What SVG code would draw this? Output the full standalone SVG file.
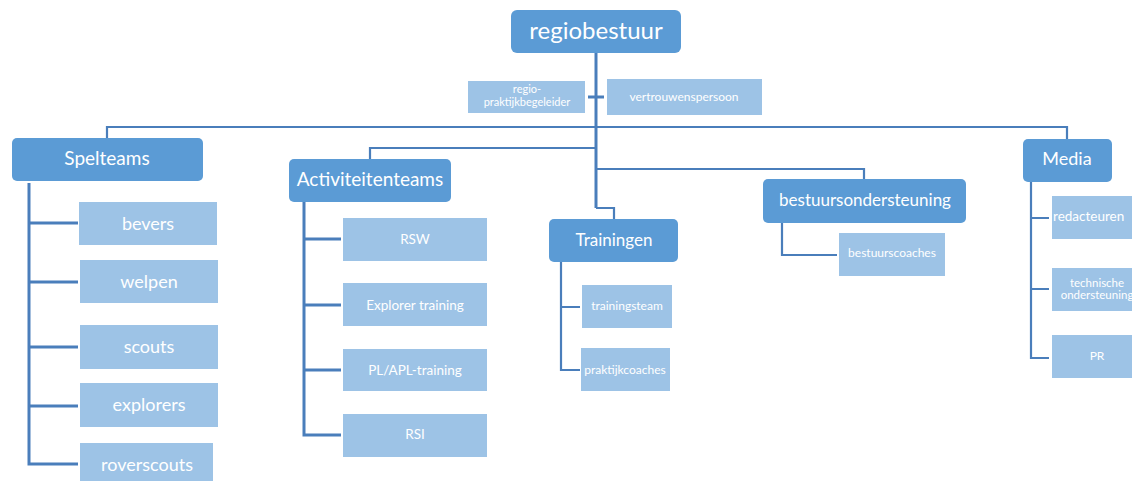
<svg xmlns="http://www.w3.org/2000/svg" width="1132" height="481" viewBox="0 0 1132 481">
<style>
.d{fill:#5b9bd5;}
.l{fill:#9dc3e6;}
text{font-family:Lato,"Open Sans","Liberation Sans",sans-serif;fill:#ffffff;text-anchor:middle;}
.c{fill:none;stroke:#4a7ebb;stroke-linejoin:miter;}
.t2{stroke-width:2.2;}
.t3{stroke-width:3;}
</style>
<rect width="1132" height="481" fill="#ffffff"/>
<g id="connectors">
<path class="c t3" d="M596 53 V208"/>
<path class="c t3" d="M588 97 H604"/>
<path class="c t2" d="M107 138 V127 H1067 V139"/>
<path class="c t2" d="M370 159 V148 H596"/>
<path class="c t2" d="M596 169 H864 V179"/>
<path class="c t2" d="M596 208 H614 V219"/>
<path class="c t3" d="M29 183 V464 H78 M29 223 H78 M29 282 H78 M29 347 H78 M29 406 H78"/>
<path class="c t3" d="M304 202 V435 H341 M304 239 H341 M304 305 H341 M304 370 H341"/>
<path class="c t2" d="M561 262 V370 H580 M561 307 H580"/>
<path class="c t2" d="M782 223 V255 H837"/>
<path class="c t2" d="M1031 182 V358 H1049 M1031 218 H1049 M1031 289 H1049"/>
</g>
<g id="regiobestuur"><rect class="d" x="511" y="10" width="170" height="43" rx="6"/><text x="596" y="39" font-size="24">regiobestuur</text></g>
<g id="regiopraktijkbegeleider"><rect class="l" x="468" y="81" width="117" height="32"/><text x="527" y="93" font-size="11">regio-</text><text x="527" y="106" font-size="11">praktijkbegeleider</text></g>
<g id="vertrouwenspersoon"><rect class="l" x="607" y="79" width="155" height="36"/><text x="684" y="101" font-size="12">vertrouwenspersoon</text></g>

<g id="spelteams"><rect class="d" x="12" y="138" width="191" height="43" rx="5"/><text x="107" y="165" font-size="19">Spelteams</text></g>
<g id="bevers"><rect class="l" x="79" y="202" width="138" height="43"/><text x="148" y="230" font-size="18">bevers</text></g>
<g id="welpen"><rect class="l" x="80" y="260" width="138" height="43"/><text x="149" y="288" font-size="18">welpen</text></g>
<g id="scouts"><rect class="l" x="80" y="325" width="138" height="44"/><text x="149" y="353" font-size="18">scouts</text></g>
<g id="explorers"><rect class="l" x="80" y="383" width="138" height="44"/><text x="149" y="411" font-size="18">explorers</text></g>
<g id="roverscouts"><rect class="l" x="80" y="443" width="133" height="42"/><text x="147" y="471" font-size="18">roverscouts</text></g>

<g id="activiteitenteams"><rect class="d" x="289" y="159" width="162" height="43" rx="5"/><text x="370" y="186" font-size="19">Activiteitenteams</text></g>
<g id="rsw"><rect class="l" x="343" y="218" width="144" height="43"/><text x="415" y="244" font-size="13.5">RSW</text></g>
<g id="explorertraining"><rect class="l" x="343" y="283" width="144" height="43"/><text x="415" y="310" font-size="13.5">Explorer training</text></g>
<g id="plapltraining"><rect class="l" x="343" y="349" width="144" height="42"/><text x="415" y="375" font-size="13.5">PL/APL-training</text></g>
<g id="rsi"><rect class="l" x="343" y="414" width="144" height="43"/><text x="415" y="439" font-size="13.5">RSI</text></g>

<g id="trainingen"><rect class="d" x="549" y="219" width="129" height="43" rx="5"/><text x="614" y="246" font-size="17">Trainingen</text></g>
<g id="trainingsteam"><rect class="l" x="582" y="285" width="90" height="43"/><text x="627" y="310" font-size="12">trainingsteam</text></g>
<g id="praktijkcoaches"><rect class="l" x="581" y="348" width="89" height="43"/><text x="625" y="374" font-size="12">praktijkcoaches</text></g>

<g id="bestuursondersteuning"><rect class="d" x="763" y="179" width="203" height="44" rx="5"/><text x="865" y="206" font-size="17">bestuursondersteuning</text></g>
<g id="bestuurscoaches"><rect class="l" x="839" y="233" width="106" height="43"/><text x="892" y="257" font-size="12">bestuurscoaches</text></g>

<g id="media"><rect class="d" x="1023" y="139" width="89" height="43" rx="5"/><text x="1067" y="165" font-size="18">Media</text></g>
<g id="redacteuren"><rect class="l" x="1052" y="196" width="90" height="43"/><text x="1053" y="221" font-size="13.5" style="text-anchor:start">redacteuren</text></g>
<g id="technischeondersteuning"><rect class="l" x="1052" y="268" width="90" height="43"/><text x="1097" y="287" font-size="11.5">technische</text><text x="1097" y="299" font-size="11.5">ondersteuning</text></g>
<g id="pr"><rect class="l" x="1052" y="335" width="90" height="43"/><text x="1097" y="360" font-size="12">PR</text></g>
</svg>
